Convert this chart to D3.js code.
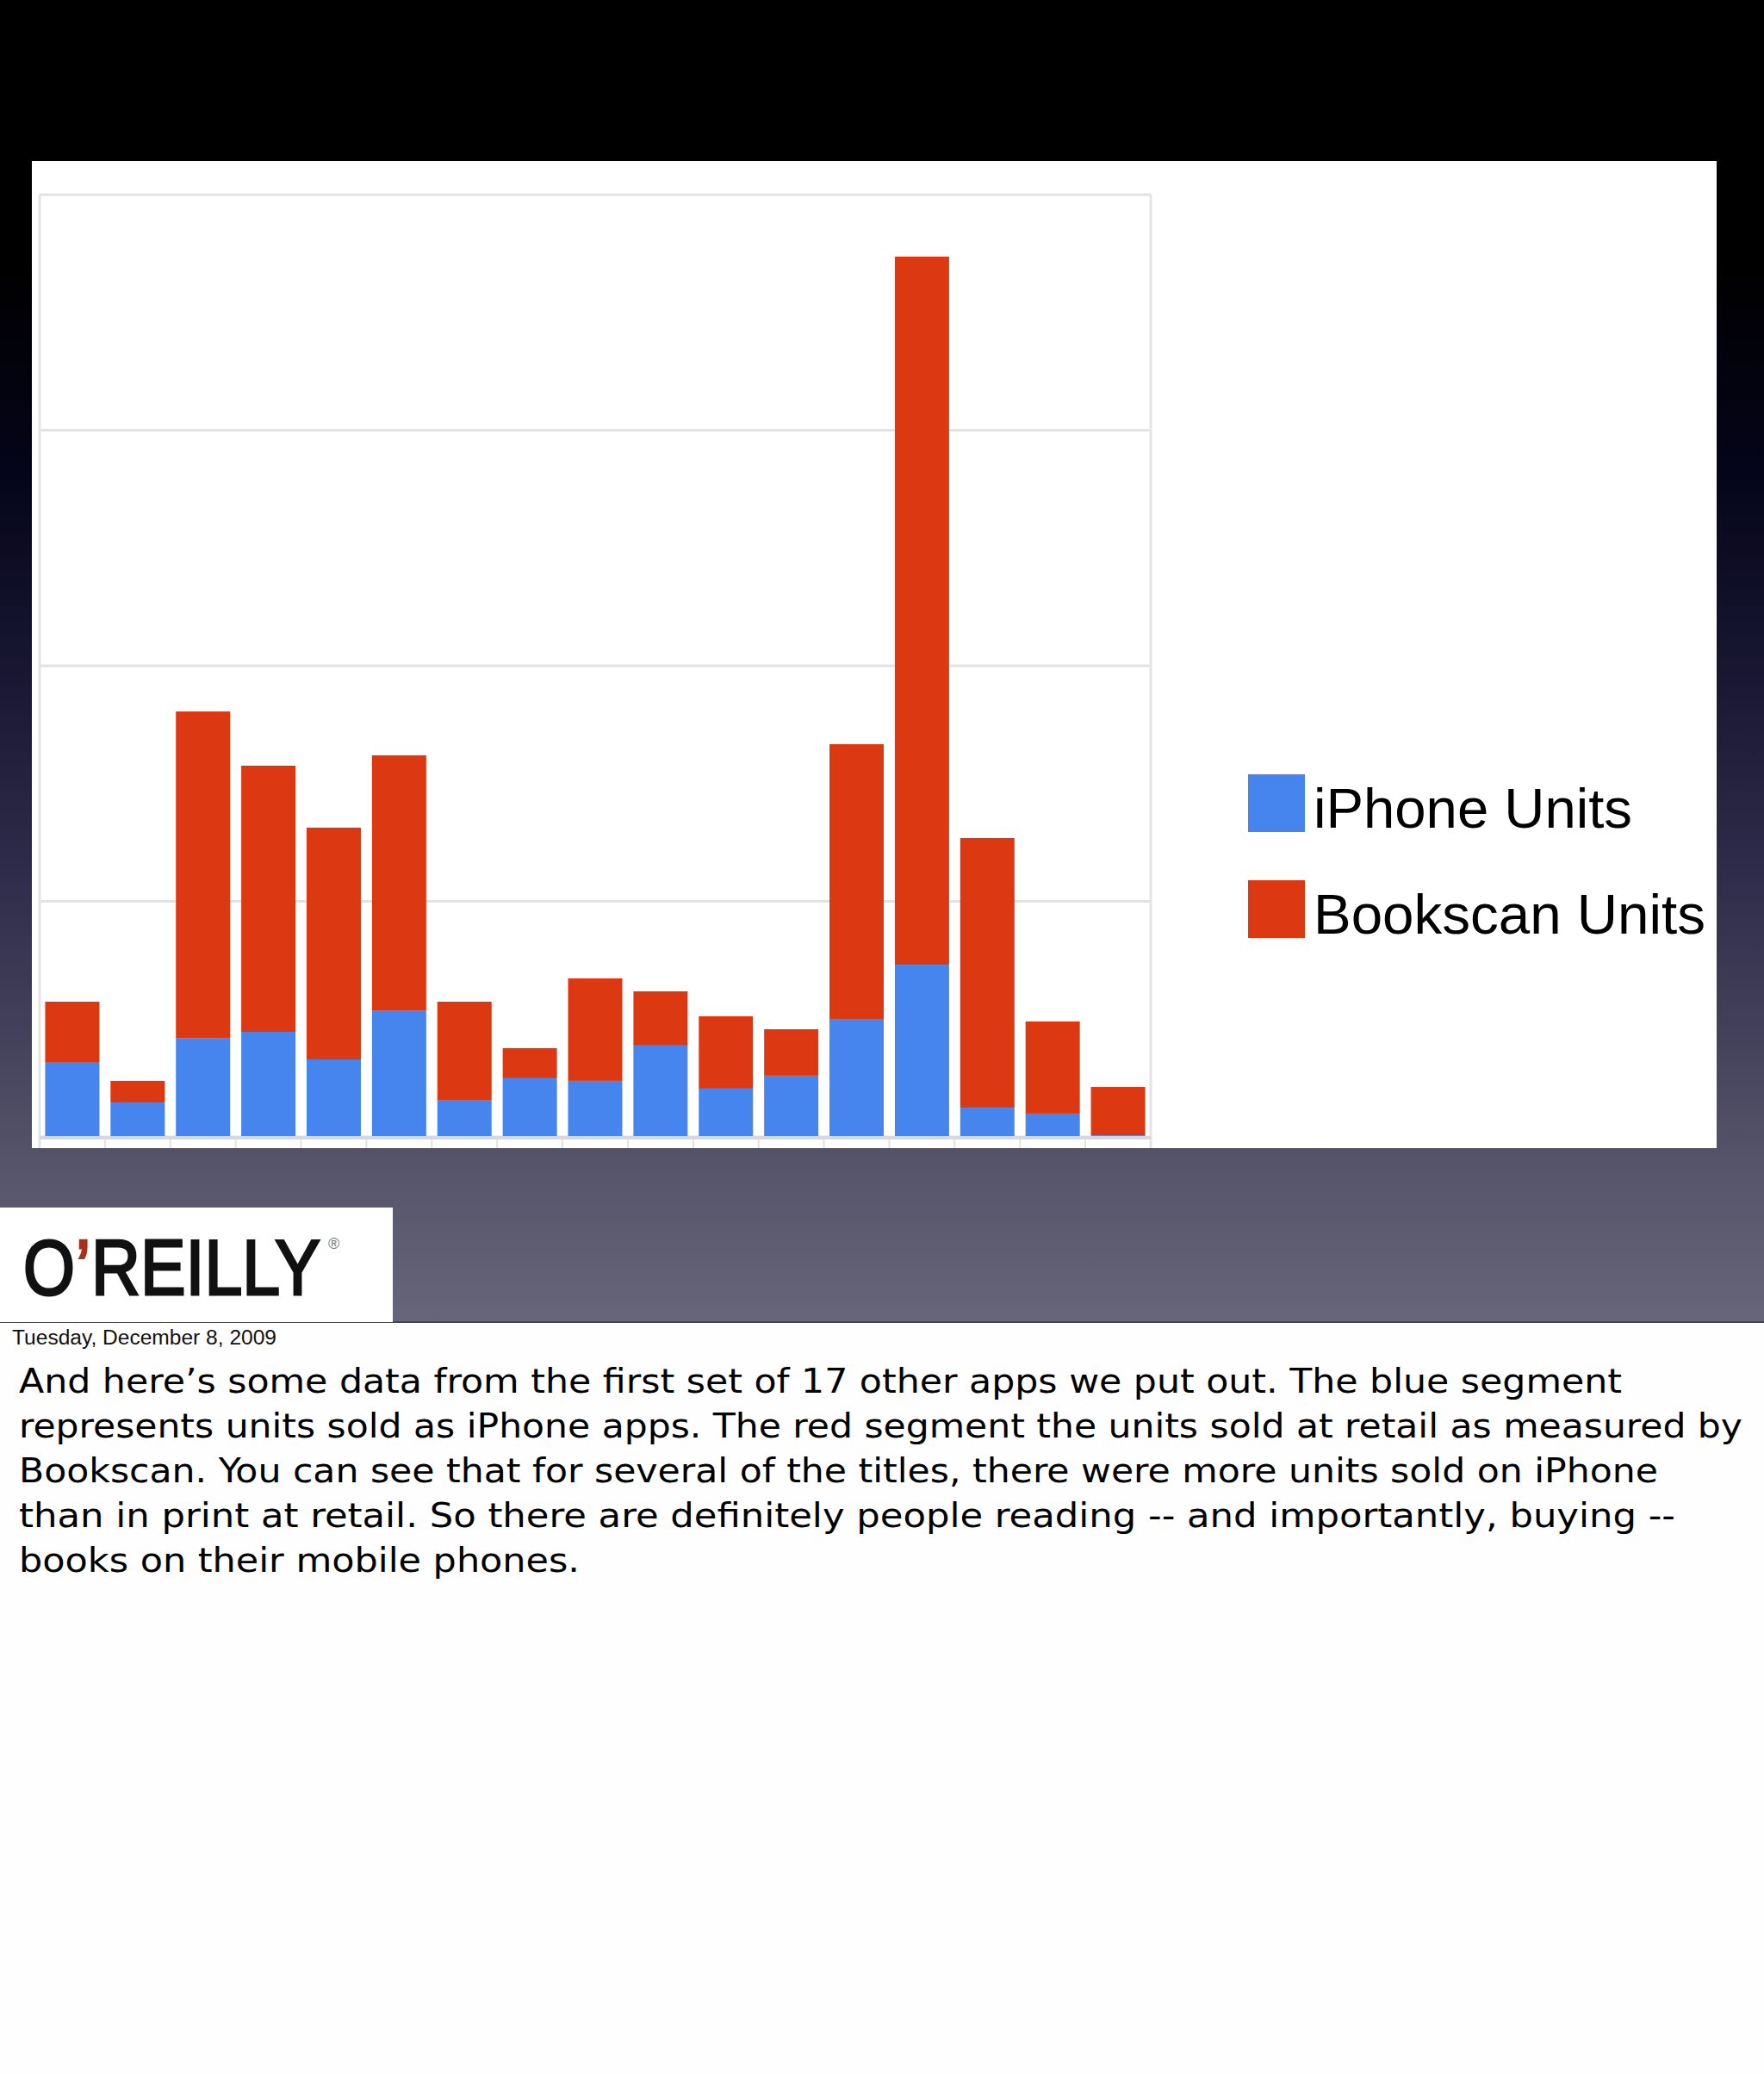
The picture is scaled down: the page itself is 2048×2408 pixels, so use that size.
<!DOCTYPE html>
<html>
<head>
<meta charset="utf-8">
<script src="https://cdn.jsdelivr.net/npm/d3@7"></script>
<style>
  html, body { margin: 0; padding: 0; background: #fefefe; }
  svg { display: block; }
</style>
</head>
<body>
<script>
// ---- data ----
const categories = ["1","2","3","4","5","6","7","8","9","10","11","12","13","14","15","16","17"];
const iphoneUnits   = [31.8, 14.6, 42.0, 44.6, 32.9, 53.7, 15.7, 24.9, 23.8, 38.8, 20.5, 26.0, 50.1, 73.1, 12.4, 9.9, 0.7];
const bookscanUnits = [25.6,  9.2, 138.6, 113.0, 98.4, 108.3, 41.7, 12.8, 43.5, 23.0, 30.7, 19.7, 116.6, 300.6, 114.5, 39.1, 20.5];
const seriesNames = ["iPhone Units", "Bookscan Units"];
const seriesColors = ["#4684ee", "#dc3912"];
const yTicks = [0, 100, 200, 300, 400];
const notesLines = [
  "And here\u2019s some data from the first set of 17 other apps we put out. The blue segment",
  "represents units sold as iPhone apps. The red segment the units sold at retail as measured by",
  "Bookscan. You can see that for several of the titles, there were more units sold on iPhone",
  "than in print at retail. So there are definitely people reading -- and importantly, buying --",
  "books on their mobile phones."
];
const notesWidths = [1861, 2001, 1903, 1923, 651];
const dateText = "Tuesday, December 8, 2009";

// ---- canvas ----
const W = 2048, H = 2408;
const svg = d3.select("body").append("svg").attr("width", W).attr("height", H);
const defs = svg.append("defs");
const g = defs.append("linearGradient").attr("id", "bg").attr("x1", 0).attr("y1", 0).attr("x2", 0).attr("y2", 1);
[[0, "#000000"], [0.2, "#000000"], [0.36, "#05051a"], [0.52, "#1a1834"], [0.66, "#2f2c4b"], [0.8, "#47445e"], [0.88, "#56546a"], [1, "#666579"]]
  .forEach(([o, c]) => g.append("stop").attr("offset", o).attr("stop-color", c));

svg.append("rect").attr("x", 0).attr("y", 0).attr("width", W).attr("height", H).attr("fill", "#fefefe");
svg.append("rect").attr("x", 0).attr("y", 0).attr("width", W).attr("height", 1536).attr("fill", "url(#bg)");
svg.append("rect").attr("x", 0).attr("y", 1534).attr("width", W).attr("height", 2).attr("fill", "#45444f");

// white chart panel
svg.append("rect").attr("x", 37).attr("y", 187).attr("width", 1956).attr("height", 1146).attr("fill", "#ffffff");

// ---- chart ----
const plot = { left: 46, right: 1336, top: 226, bottom: 1320, panelBottom: 1333 };
const x = d3.scaleBand().domain(categories).range([plot.left, plot.right]).paddingInner(0.17).paddingOuter(0.085);
const y = d3.scaleLinear().domain([0, 400]).range([plot.bottom, plot.top]);

const chart = svg.append("g");
// gridlines
chart.selectAll("line.grid").data(yTicks).join("line")
  .attr("x1", plot.left).attr("x2", plot.right)
  .attr("y1", d => y(d)).attr("y2", d => y(d))
  .attr("stroke", "#e2e2e2").attr("stroke-width", 3);
// frame verticals
[plot.left, plot.right].forEach(px => {
  chart.append("line").attr("x1", px).attr("x2", px).attr("y1", plot.top).attr("y2", plot.panelBottom)
    .attr("stroke", "#e4e4e4").attr("stroke-width", 3);
});
// tick separators below baseline
const step = x.step();
chart.selectAll("line.tick").data(categories.slice(1)).join("line")
  .attr("x1", d => x(d) - step * x.paddingInner() / 2).attr("x2", d => x(d) - step * x.paddingInner() / 2)
  .attr("y1", plot.bottom).attr("y2", plot.panelBottom)
  .attr("stroke", "#e2e2e2").attr("stroke-width", 2);

// stacked bars
const rows = categories.map((c, i) => ({ cat: c, iphone: iphoneUnits[i], bookscan: bookscanUnits[i] }));
const stack = d3.stack().keys(["iphone", "bookscan"])(rows);
chart.selectAll("g.series").data(stack).join("g")
  .attr("fill", (d, i) => seriesColors[i])
  .selectAll("rect").data(d => d).join("rect")
  .attr("x", d => x(d.data.cat))
  .attr("width", x.bandwidth())
  .attr("y", d => y(d[1]))
  .attr("height", d => y(d[0]) - y(d[1]));

// baseline
chart.append("line").attr("x1", plot.left).attr("x2", plot.right)
  .attr("y1", plot.bottom + 1).attr("y2", plot.bottom + 1)
  .attr("stroke", "#d8d8d8").attr("stroke-width", 4);

// legend
const legend = svg.append("g");
const legendY = [899, 1022];
const legendW = [370, 455];
seriesNames.forEach((name, i) => {
  legend.append("rect").attr("x", 1449).attr("y", legendY[i]).attr("width", 66).attr("height", 67).attr("fill", seriesColors[i]);
  legend.append("text").attr("x", 1525).attr("y", legendY[i] + 62)
    .attr("font-family", "Liberation Sans, Arial, sans-serif").attr("font-size", 64)
    .attr("fill", "#000").attr("textLength", legendW[i]).attr("lengthAdjust", "spacingAndGlyphs")
    .text(name);
});

// O'Reilly logo
svg.append("rect").attr("x", 0).attr("y", 1402).attr("width", 456).attr("height", 133).attr("fill", "#ffffff");
const logoFont = "Liberation Sans, Arial, sans-serif";
const logo = svg.append("g").attr("transform", "translate(0,1503) scale(1,1.19)");
logo.append("text").attr("x", 27).attr("y", 0).attr("font-family", logoFont).attr("font-size", 77)
  .attr("fill", "#111").attr("stroke", "#111").attr("stroke-width", 2.5).text("O");
logo.append("text").attr("x", 88).attr("y", 0).attr("font-family", logoFont).attr("font-size", 77)
  .attr("fill", "#a8311c").attr("stroke", "#a8311c").attr("stroke-width", 2.5).text("\u2019");
logo.append("text").attr("x", 106).attr("y", 0).attr("font-family", logoFont).attr("font-size", 77)
  .attr("fill", "#111").attr("stroke", "#111").attr("stroke-width", 2.5)
  .attr("textLength", 266).attr("lengthAdjust", "spacingAndGlyphs").text("REILLY");
svg.append("text").attr("x", 381).attr("y", 1450).attr("font-family", logoFont)
  .attr("font-size", 18).attr("fill", "#777").text("\u00ae");

// date
svg.append("text").attr("x", 14).attr("y", 1561)
  .attr("font-family", "Liberation Sans, Arial, sans-serif").attr("font-size", 23)
  .attr("fill", "#111").attr("textLength", 307).attr("lengthAdjust", "spacingAndGlyphs")
  .text(dateText);

// notes
svg.append("g").selectAll("text").data(notesLines).join("text")
  .attr("x", 22).attr("y", (d, i) => 1617 + i * 52)
  .attr("font-family", "DejaVu Sans Condensed, DejaVu Sans, sans-serif").attr("font-size", 39)
  .attr("fill", "#000")
  .attr("textLength", (d, i) => notesWidths[i]).attr("lengthAdjust", "spacingAndGlyphs")
  .text(d => d);
</script>
</body>
</html>
